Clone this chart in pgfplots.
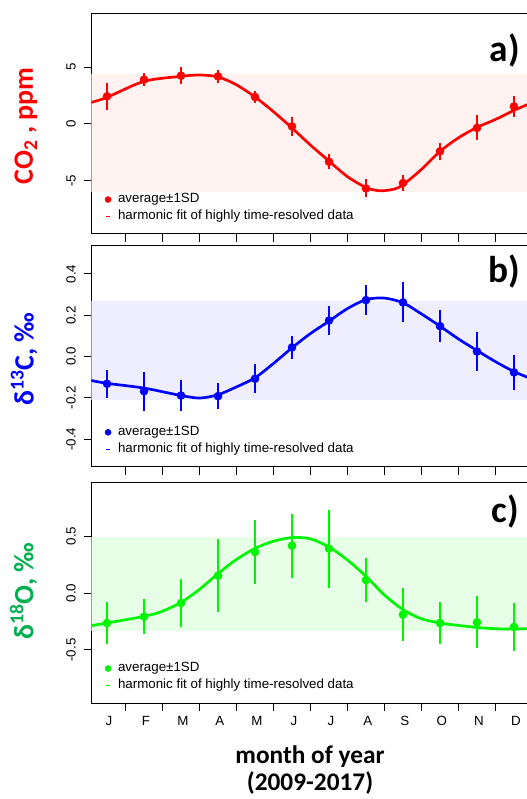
\documentclass[border=0pt]{standalone}
\usepackage{fontspec}
\setmainfont{Liberation Sans}
\newfontfamily\calib{Carlito}
\usepackage{pgfplots}
\usepackage{pgfplotstable}
\pgfplotsset{compat=1.18}

\definecolor{cored}{RGB}{255,0,0}
\definecolor{coblue}{RGB}{0,0,255}
\definecolor{cogreen}{RGB}{0,245,0}
\definecolor{labgreen}{RGB}{0,176,80}
\definecolor{bandA}{RGB}{255,242,240}
\definecolor{bandB}{RGB}{238,238,255}
\definecolor{bandC}{RGB}{230,255,230}

% monthly means and SD (x = month centre)
\pgfplotstableread{
x y e
0.5 2.44 1.20
1.5 3.91 0.60
2.5 4.26 0.75
3.5 4.20 0.60
4.5 2.38 0.50
5.5 -0.21 0.85
6.5 -3.33 0.65
7.5 -5.68 0.80
8.5 -5.21 0.74
9.5 -2.41 0.77
10.5 -0.35 1.10
11.5 1.55 0.94
}\ptsA
\pgfplotstableread{
x y
0.068 1.90
0.5 2.35
1.5 3.76
2.5 4.20
3.01 4.32
3.5 4.15
3.99 3.47
4.5 2.38
4.99 1.11
5.5 -0.35
5.99 -1.83
6.5 -3.27
6.99 -4.62
7.5 -5.60
7.88 -5.89
8.26 -5.74
8.5 -5.36
8.99 -4.03
9.5 -2.42
9.99 -1.24
10.5 -0.30
11.0 0.40
11.5 1.20
12.0 1.90
}\fitA

\pgfplotstableread{
x y e
0.5 -0.132 0.067
1.5 -0.168 0.095
2.5 -0.189 0.073
3.5 -0.192 0.062
4.5 -0.108 0.071
5.5 0.044 0.057
6.5 0.174 0.069
7.5 0.273 0.071
8.5 0.262 0.097
9.5 0.147 0.077
10.5 0.024 0.093
11.5 -0.077 0.084
}\ptsB
\pgfplotstableread{
x y
0.068 -0.116
0.5 -0.130
1.5 -0.153
2.5 -0.189
3.01 -0.201
3.5 -0.185
3.99 -0.148
4.5 -0.103
4.99 -0.035
5.5 0.042
5.99 0.110
6.5 0.171
6.99 0.231
7.5 0.275
7.99 0.283
8.5 0.260
8.99 0.207
9.5 0.147
9.99 0.086
10.5 0.029
10.99 -0.024
11.5 -0.073
12.0 -0.110
}\fitB

\pgfplotstableread{
x y e
0.5 -0.263 0.184
1.5 -0.208 0.153
2.5 -0.088 0.208
3.5 0.152 0.322
4.5 0.360 0.278
5.5 0.415 0.281
6.5 0.389 0.343
7.5 0.114 0.193
8.5 -0.190 0.235
9.5 -0.263 0.186
10.5 -0.257 0.228
11.5 -0.298 0.207
}\ptsC
\pgfplotstableread{
x y
0.068 -0.287
0.5 -0.263
1.5 -0.205
1.99 -0.161
2.5 -0.082
2.99 0.029
3.5 0.170
3.99 0.292
4.5 0.391
4.99 0.453
5.5 0.486
5.99 0.476
6.5 0.403
6.99 0.292
7.5 0.146
7.99 -0.015
8.5 -0.146
8.99 -0.225
9.5 -0.263
9.99 -0.284
10.5 -0.302
10.99 -0.313
11.5 -0.316
12.0 -0.310
}\fitC

\pgfplotsset{
  panel/.style={
    scale only axis, width=344.6pt, height=165pt,
    xmin=0.08, xmax=12.5,
    axis line style={line width=0.75pt},
    tick align=outside, tick pos=left, major tick length=5.8pt,
    tick style={line width=0.75pt, black},
    xtick={1,2,...,11}, xticklabels={},
    yticklabel shift=2.5pt,
    yticklabel style={rotate=90, anchor=south, font=\fontsize{10}{12}\selectfont},
    /pgf/number format/assume math mode=true,
    legend cell align=left,
    legend style={draw=none, fill=none, inner sep=0pt, outer sep=0pt,
      at={(0.029,0.187)}, anchor=north west,
      font=\fontsize{10}{12}\selectfont, row sep=2.75pt, column sep=5pt,
      nodes={inner sep=0pt, text height=7.5pt, text depth=2.5pt}},
  },
  pts/.style={only marks, mark=*, mark size=3pt, color=#1,
    mark options={fill=#1, draw=#1}, forget plot,
    error bars/.cd, y dir=both, y explicit, error mark=none,
    error bar style={line width=1.1pt, #1}},
  fit/.style={#1, line width=2pt, smooth, forget plot},
}

\begin{document}
\begin{tikzpicture}
\useasboundingbox (0,0) rectangle (394.5pt,599.25pt);

% a) CO2
\begin{axis}[panel, at={(68.625pt,588.75pt)}, anchor=north west,
  ymin=-9.7, ymax=9.7, ytick={-5,0,5}, yticklabels={-5,0,5}]
\addplot[draw=none, fill=bandA, forget plot] coordinates {(0,-6.0) (13,-6.0) (13,4.4) (0,4.4)} -- cycle;
\addplot[fit=cored] table {\fitA};
\addplot[pts=cored] table[x=x, y=y, y error=e] {\ptsA};
\addlegendimage{legend image code/.code={\fill[cored] (0pt,0pt) circle (2.25pt);}}
\addlegendentry{average±1SD}
\addlegendimage{legend image code/.code={\draw[cored, line width=1.2pt] (-1.5pt,0pt) -- (1.5pt,0pt);}}
\addlegendentry{harmonic fit of highly time-resolved data}
\end{axis}

% b) d13C
\begin{axis}[panel, at={(68.625pt,414.75pt)}, anchor=north west, height=165.75pt,
  ymin=-0.535, ymax=0.535, ytick={-0.4,-0.2,0,0.2,0.4},
  yticklabels={-0.4,-0.2,0.0,0.2,0.4}]
\addplot[draw=none, fill=bandB, forget plot] coordinates {(0,-0.213) (13,-0.213) (13,0.271) (0,0.271)} -- cycle;
\addplot[fit=coblue] table {\fitB};
\addplot[pts=coblue] table[x=x, y=y, y error=e] {\ptsB};
\addlegendimage{legend image code/.code={\fill[coblue] (0pt,0pt) circle (2.25pt);}}
\addlegendentry{average±1SD}
\addlegendimage{legend image code/.code={\draw[coblue, line width=1.2pt] (-1.5pt,0pt) -- (1.5pt,0pt);}}
\addlegendentry{harmonic fit of highly time-resolved data}
\end{axis}

% c) d18O
\begin{axis}[panel, at={(68.625pt,237pt)}, anchor=north west,
  ymin=-0.965, ymax=0.965, ytick={-0.5,0,0.5}, yticklabels={-0.5,0.0,0.5},
  extra x ticks={0.55,1.55,2.55,3.55,4.55,5.55,6.55,7.55,8.55,9.55,10.55,11.55},
  extra x tick labels={J,F,M,A,M,J,J,A,S,O,N,D},
  extra x tick style={major tick length=0pt,
    tick label style={anchor=base, font=\fontsize{10}{12}\selectfont, yshift=-16.5pt}}]
\addplot[draw=none, fill=bandC, forget plot] coordinates {(0,-0.337) (13,-0.337) (13,0.487) (0,0.487)} -- cycle;
\addplot[fit=cogreen] table {\fitC};
\addplot[pts=cogreen] table[x=x, y=y, y error=e] {\ptsC};
\addlegendimage{legend image code/.code={\fill[cogreen] (0pt,0pt) circle (2.25pt);}}
\addlegendentry{average±1SD}
\addlegendimage{legend image code/.code={\draw[cogreen, line width=1.2pt] (-1.5pt,0pt) -- (1.5pt,0pt);}}
\addlegendentry{harmonic fit of highly time-resolved data}
\end{axis}

% axis titles and panel letters
\node[rotate=90, text=cored, font=\calib\bfseries\fontsize{21}{24}\selectfont] at (19.5pt,504.75pt) {CO\textsubscript{2} , ppm};
\node[rotate=90, text=coblue, font=\calib\bfseries\fontsize{21}{24}\selectfont] at (18pt,330pt) {δ\textsuperscript{13}C, ‰};
\node[rotate=90, text=labgreen, font=\calib\bfseries\fontsize{21}{24}\selectfont] at (17.6pt,156pt) {δ\textsuperscript{18}O, ‰};
\node[anchor=base east, inner sep=0pt, font=\calib\bfseries\fontsize{28}{32}\selectfont] at (390pt,553.1pt) {a)};
\node[anchor=base east, inner sep=0pt, font=\calib\bfseries\fontsize{28}{32}\selectfont] at (390pt,387pt) {b)};
\node[anchor=base east, inner sep=0pt, font=\calib\bfseries\fontsize{28}{32}\selectfont] at (389.25pt,207pt) {c)};
\node[anchor=base, inner sep=0pt, font=\calib\bfseries\fontsize{19}{22}\selectfont] at (232.5pt,26.25pt) {month of year};
\node[anchor=base, inner sep=0pt, font=\calib\bfseries\fontsize{19}{22}\selectfont] at (232.5pt,6.2pt) {(2009-2017)};
\end{tikzpicture}
\end{document}
